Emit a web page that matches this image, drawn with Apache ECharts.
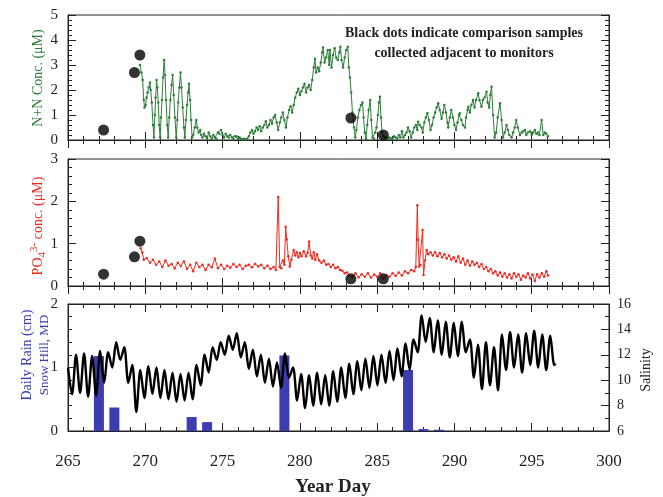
<!DOCTYPE html>
<html><head><meta charset="utf-8">
<script src="https://cdn.jsdelivr.net/npm/echarts@6/dist/echarts.min.js"></script>
<style>html,body{margin:0;padding:0;background:#fff}#c{width:663px;height:497px}</style>
</head><body><div id="c"></div>
<script>
// ---- Data (Year Day, value) ----
var nnData = [
[269.65,3.0],[269.75,2.7],[269.83,2.4],[269.9,1.6],[269.95,1.3],[270.02,1.4],[270.08,1.7],[270.15,1.9],[270.22,2.1],[270.3,2.3],[270.35,2.0],[270.42,1.5],[270.5,0.6],[270.56,0.1],[270.62,1.0],[270.67,1.7],[270.73,2.4],[270.78,2.1],[270.84,1.5],[270.9,0.6],[270.96,0.1],[271.02,0.9],[271.08,1.6],[271.15,2.5],[271.22,3.2],[271.28,2.6],[271.34,1.6],[271.42,0.6],[271.48,0.1],[271.55,0.9],[271.62,1.6],[271.7,2.2],[271.77,2.6],[271.84,1.8],[271.92,0.9],[272.0,0.1],[272.07,0.8],[272.13,1.5],[272.2,2.1],[272.28,2.7],[272.34,2.1],[272.42,1.3],[272.5,0.5],[272.56,0.1],[272.63,0.8],[272.7,1.4],[272.77,1.9],[272.83,2.25],[272.9,1.6],[272.96,0.8],[273.03,0.1],[273.1,0.2],[273.2,0.5],[273.3,0.8],[273.36,0.5],[273.45,0.3],[273.55,0.4],[273.62,0.2],[273.7,0.1],[273.8,0.25],[273.9,0.15],[274.0,0.05],[274.1,0.3],[274.2,0.15],[274.3,0.05],[274.4,0.2],[274.5,0.1],[274.6,0.05],[274.7,0.3],[274.8,0.25],[274.9,0.4],[275.0,0.2],[275.1,0.1],[275.2,0.25],[275.3,0.15],[275.4,0.1],[275.5,0.2],[275.6,0.1],[275.7,0.05],[275.8,0.15],[275.9,0.15],[276.0,0.05],[276.1,0.1],[276.2,0.05],[276.3,0.03],[276.4,0.05],[276.5,0.02],[276.6,0.05],[276.7,0.15],[276.8,0.3],[276.9,0.4],[277.0,0.25],[277.1,0.35],[277.2,0.5],[277.3,0.4],[277.4,0.55],[277.5,0.35],[277.6,0.5],[277.7,0.6],[277.8,0.75],[277.9,0.5],[278.0,0.6],[278.1,0.8],[278.2,0.65],[278.3,0.9],[278.4,1.0],[278.5,0.7],[278.6,0.4],[278.7,0.7],[278.8,0.9],[278.9,1.1],[279.0,0.8],[279.1,0.5],[279.2,0.9],[279.3,1.2],[279.4,1.35],[279.5,1.1],[279.6,1.4],[279.7,1.7],[279.8,1.9],[279.9,2.05],[280.0,1.8],[280.1,1.95],[280.2,2.1],[280.3,2.25],[280.4,1.9],[280.5,2.1],[280.6,2.2],[280.7,2.0],[280.8,2.4],[280.9,2.9],[280.98,3.25],[281.05,2.7],[281.15,2.9],[281.25,2.75],[281.35,3.1],[281.45,3.5],[281.5,3.7],[281.6,3.1],[281.7,3.3],[281.8,3.6],[281.9,3.0],[281.95,3.6],[282.05,2.9],[282.15,3.4],[282.25,3.67],[282.35,3.3],[282.45,3.2],[282.55,3.5],[282.62,3.73],[282.7,3.2],[282.8,2.9],[282.9,3.3],[283.0,3.6],[283.1,3.73],[283.17,2.9],[283.24,2.5],[283.32,1.9],[283.4,1.1],[283.5,0.5],[283.58,0.1],[283.66,0.4],[283.75,0.9],[283.85,1.2],[283.95,1.4],[284.05,1.5],[284.12,0.9],[284.2,0.3],[284.28,0.05],[284.36,0.6],[284.45,1.2],[284.55,1.6],[284.62,0.8],[284.7,0.1],[284.8,0.05],[284.88,0.3],[284.96,0.5],[285.05,1.0],[285.12,1.5],[285.18,1.73],[285.25,0.9],[285.32,0.3],[285.4,0.15],[285.5,0.1],[285.6,0.1],[285.7,0.05],[285.8,0.1],[285.9,0.05],[286.0,0.05],[286.1,0.15],[286.2,0.1],[286.3,0.05],[286.4,0.2],[286.5,0.1],[286.6,0.35],[286.7,0.1],[286.8,0.2],[286.9,0.3],[287.0,0.5],[287.1,0.35],[287.2,0.1],[287.3,0.3],[287.4,0.5],[287.5,0.6],[287.6,0.4],[287.65,0.73],[287.75,0.6],[287.87,0.5],[287.95,0.3],[288.05,0.7],[288.15,0.9],[288.25,1.07],[288.35,0.8],[288.45,0.4],[288.55,0.6],[288.65,0.9],[288.75,1.1],[288.85,1.3],[288.95,1.47],[289.05,1.2],[289.17,0.85],[289.25,1.1],[289.35,1.4],[289.45,1.1],[289.55,0.7],[289.6,0.5],[289.7,0.9],[289.8,1.2],[289.9,0.9],[290.0,0.6],[290.1,0.4],[290.2,0.7],[290.3,1.0],[290.35,1.07],[290.45,0.8],[290.55,0.6],[290.68,0.5],[290.75,0.9],[290.85,1.2],[290.9,1.33],[291.0,1.1],[291.1,1.4],[291.2,1.6],[291.3,1.3],[291.4,1.6],[291.54,1.87],[291.62,1.6],[291.75,1.33],[291.85,1.6],[291.95,1.7],[292.08,1.93],[292.15,1.5],[292.25,1.3],[292.32,1.8],[292.4,2.13],[292.5,1.0],[292.6,0.1],[292.7,0.3],[292.8,0.9],[292.95,1.47],[293.05,0.8],[293.15,0.1],[293.25,0.3],[293.37,0.6],[293.45,0.4],[293.55,0.2],[293.7,0.1],[293.8,0.3],[293.9,0.5],[294.0,0.8],[294.1,0.5],[294.24,0.2],[294.35,0.3],[294.45,0.35],[294.56,0.4],[294.65,0.2],[294.75,0.3],[294.9,0.35],[295.0,0.2],[295.1,0.3],[295.2,0.4],[295.3,0.25],[295.4,0.3],[295.5,0.2],[295.64,0.8],[295.75,0.2],[295.85,0.3],[295.95,0.25],[296.05,0.15]
];
var nnSamples = [[267.3,0.4],[269.3,2.7],[269.65,3.4],[283.3,0.88],[285.4,0.2]];

var po4Data = [
[269.7,0.89],[269.8,0.8],[269.9,0.62],[270.1,0.66],[270.3,0.55],[270.5,0.62],[270.7,0.5],[270.9,0.58],[271.1,0.45],[271.3,0.6],[271.5,0.48],[271.7,0.52],[271.9,0.42],[272.1,0.55],[272.3,0.47],[272.5,0.58],[272.7,0.4],[272.9,0.5],[273.1,0.35],[273.3,0.55],[273.5,0.45],[273.7,0.5],[273.9,0.38],[274.1,0.5],[274.3,0.44],[274.5,0.65],[274.7,0.42],[274.9,0.5],[275.1,0.4],[275.3,0.48],[275.5,0.43],[275.7,0.52],[275.9,0.45],[276.1,0.5],[276.3,0.4],[276.5,0.48],[276.7,0.5],[276.9,0.44],[277.1,0.52],[277.3,0.46],[277.5,0.5],[277.7,0.42],[277.9,0.48],[278.1,0.4],[278.3,0.45],[278.45,0.38],[278.6,2.1],[278.7,0.45],[278.8,0.42],[278.9,0.6],[279.0,0.5],[279.08,1.4],[279.15,1.1],[279.25,0.7],[279.35,0.46],[279.45,0.62],[279.6,0.85],[279.7,0.72],[279.8,0.8],[279.9,0.68],[280.0,0.78],[280.1,0.7],[280.25,0.82],[280.4,0.7],[280.5,0.78],[280.6,1.05],[280.7,0.72],[280.8,0.65],[280.9,0.8],[281.0,0.62],[281.1,0.75],[281.25,0.6],[281.4,0.55],[281.55,0.6],[281.7,0.5],[281.85,0.52],[282.0,0.45],[282.15,0.5],[282.3,0.42],[282.45,0.45],[282.6,0.38],[282.75,0.36],[282.9,0.3],[283.05,0.32],[283.2,0.25],[283.4,0.22],[283.6,0.3],[283.8,0.2],[284.0,0.28],[284.2,0.22],[284.4,0.3],[284.6,0.2],[284.8,0.27],[285.0,0.22],[285.2,0.3],[285.4,0.18],[285.6,0.26],[285.8,0.22],[286.0,0.3],[286.2,0.24],[286.4,0.32],[286.6,0.25],[286.8,0.35],[287.0,0.3],[287.2,0.38],[287.4,0.35],[287.5,0.45],[287.6,1.91],[287.65,1.09],[287.72,0.46],[287.8,0.5],[287.94,1.32],[288.0,0.26],[288.1,0.6],[288.2,0.85],[288.3,0.75],[288.45,0.8],[288.6,0.72],[288.75,0.8],[288.9,0.7],[289.05,0.78],[289.2,0.68],[289.35,0.75],[289.5,0.65],[289.65,0.72],[289.8,0.62],[289.95,0.68],[290.1,0.58],[290.25,0.7],[290.4,0.55],[290.55,0.65],[290.7,0.5],[290.85,0.6],[291.0,0.48],[291.15,0.58],[291.3,0.5],[291.45,0.55],[291.6,0.45],[291.75,0.52],[291.9,0.4],[292.05,0.45],[292.2,0.35],[292.35,0.4],[292.5,0.3],[292.65,0.35],[292.8,0.25],[292.95,0.32],[293.1,0.22],[293.25,0.3],[293.4,0.2],[293.55,0.28],[293.7,0.18],[293.85,0.3],[294.0,0.22],[294.15,0.28],[294.3,0.15],[294.45,0.25],[294.6,0.2],[294.75,0.3],[294.9,0.18],[295.05,0.27],[295.2,0.12],[295.35,0.28],[295.5,0.2],[295.65,0.3],[295.8,0.22],[295.95,0.35],[296.05,0.25]
];
var po4Samples = [[267.3,0.28],[269.3,0.69],[269.65,1.06],[283.3,0.17],[285.4,0.17]];

var rainData = [[267,1.18],[268,0.37],[273,0.22],[274,0.14],[279,1.19],[287,0.96],[288,0.03],[289,0.02]];

var salinityData = [
[265.00,11.0],[265.26,8.9],[265.52,12.0],[265.78,9.0],[266.04,12.1],[266.30,8.7],[266.56,11.9],[266.82,8.8],[267.08,12.3],[267.34,9.8],[267.60,12.2],[267.86,11.0],[268.12,13.0],[268.38,11.6],[268.64,12.6],[268.90,9.8],[269.16,11.2],[269.42,7.5],[269.68,10.8],[269.94,8.6],[270.20,11.1],[270.46,8.9],[270.72,11.0],[270.98,8.6],[271.24,10.8],[271.50,8.5],[271.76,10.6],[272.02,8.3],[272.28,10.5],[272.54,8.4],[272.80,10.6],[273.06,8.5],[273.32,11.2],[273.58,9.6],[273.84,12.0],[274.10,10.6],[274.36,12.6],[274.62,11.6],[274.88,13.0],[275.14,12.0],[275.40,13.5],[275.66,12.4],[275.92,13.7],[276.18,11.8],[276.44,13.0],[276.70,10.9],[276.96,12.4],[277.22,10.3],[277.48,12.0],[277.74,9.8],[278.00,11.7],[278.26,9.5],[278.52,11.4],[278.78,9.4],[279.04,12.1],[279.30,10.2],[279.56,11.0],[279.82,8.4],[280.08,10.5],[280.34,7.8],[280.60,10.4],[280.86,8.0],[281.12,10.6],[281.38,8.1],[281.64,10.4],[281.90,8.0],[282.16,10.7],[282.42,8.3],[282.68,11.0],[282.94,8.6],[283.20,11.3],[283.46,8.9],[283.72,11.5],[283.98,9.2],[284.24,11.7],[284.50,9.4],[284.76,11.9],[285.02,9.6],[285.28,12.0],[285.54,9.8],[285.80,12.3],[286.06,10.0],[286.32,12.5],[286.58,10.3],[286.84,12.9],[287.10,10.8],[287.36,13.2],[287.62,12.2],[287.88,15.1],[288.14,13.0],[288.40,14.9],[288.66,12.2],[288.92,14.7],[289.18,12.0],[289.44,14.6],[289.70,11.8],[289.96,14.5],[290.22,11.9],[290.48,14.6],[290.74,12.2],[291.00,13.2],[291.26,10.2],[291.52,12.8],[291.78,9.3],[292.04,13.0],[292.30,9.6],[292.56,12.6],[292.82,9.2],[293.08,13.6],[293.34,10.8],[293.60,13.8],[293.86,11.0],[294.12,13.6],[294.38,10.6],[294.64,13.7],[294.90,11.2],[295.16,13.9],[295.42,11.0],[295.68,13.6],[295.94,10.8],[296.20,13.5],[296.46,11.2],[296.55,11.3]
];

var xTicks = [265, 270, 275, 280, 285, 290, 295, 300];

// ---- Chart ----
var FONT = 'Liberation Serif';
var GREEN = '#2f7d3a', RED = '#ee2a1e', BLUE = '#3b3db0', INK = '#222';
var chart = echarts.init(document.getElementById('c'), null, {renderer: 'canvas'});

var grids = [
  {left: 68, right: 54, top: 15, height: 125},
  {left: 68, right: 54, top: 159, height: 127},
  {left: 68, right: 54, top: 304, height: 127}
];
grids.forEach(function (g) { g.show = true; g.borderColor = INK; g.borderWidth = 1; g.backgroundColor = 'transparent'; });

function xAx(gi, pos, labels) {
  return {
    type: 'value', gridIndex: gi, position: pos, min: xTicks[0], max: xTicks[xTicks.length - 1], interval: 5,
    axisLine: {show: true, lineStyle: {color: INK, width: 1}},
    axisTick: {show: true, inside: true, length: 8, lineStyle: {color: INK}},
    minorTick: {show: true, splitNumber: 5, length: 4, lineStyle: {color: INK}},
    axisLabel: {show: labels, fontFamily: FONT, fontSize: 17, color: INK, margin: 22},
    splitLine: {show: false}
  };
}
function yAx(gi, pos, min, max, interval, minorSplit, labels, fs) {
  return {
    type: 'value', gridIndex: gi, position: pos, min: min, max: max, interval: interval,
    axisLine: {show: true, lineStyle: {color: INK, width: 1}},
    axisTick: {show: true, inside: true, length: 8, lineStyle: {color: INK}},
    minorTick: {show: true, splitNumber: minorSplit, length: 4, lineStyle: {color: INK}},
    axisLabel: {show: labels, fontFamily: FONT, fontSize: fs || 15, color: INK, margin: pos === 'left' ? 10 : 8},
    splitLine: {show: false}
  };
}

var option = {
  animation: false,
  backgroundColor: '#fff',
  textStyle: {fontFamily: FONT},
  grid: grids,
  xAxis: [xAx(0, 'bottom', false), xAx(0, 'top', false), xAx(1, 'bottom', false), xAx(1, 'top', false), xAx(2, 'bottom', true), xAx(2, 'top', false)],
  yAxis: [
    yAx(0, 'left', 0, 5, 1, 5, true), yAx(0, 'right', 0, 5, 1, 5, false),
    yAx(1, 'left', 0, 3, 1, 5, true), yAx(1, 'right', 0, 3, 1, 5, false),
    yAx(2, 'left', 0, 2, 1, 5, true), yAx(2, 'right', 6, 16, 2, 2, true, 14)
  ],
  series: [
    {type: 'line', xAxisIndex: 0, yAxisIndex: 0, data: nnData, symbol: 'circle', symbolSize: 2.5, showSymbol: true,
     lineStyle: {color: GREEN, width: 1}, itemStyle: {color: GREEN}},
    {type: 'scatter', xAxisIndex: 0, yAxisIndex: 0, data: nnSamples, symbolSize: 11, itemStyle: {color: '#000'}, z: 5},
    {type: 'line', xAxisIndex: 2, yAxisIndex: 2, data: po4Data, symbol: 'circle', symbolSize: 2.5, showSymbol: true,
     lineStyle: {color: RED, width: 1}, itemStyle: {color: RED}},
    {type: 'scatter', xAxisIndex: 2, yAxisIndex: 2, data: po4Samples, symbolSize: 11, itemStyle: {color: '#000'}, z: 5},
    {type: 'bar', xAxisIndex: 4, yAxisIndex: 4, data: rainData, barWidth: 10, itemStyle: {color: BLUE}},
    {type: 'line', xAxisIndex: 4, yAxisIndex: 5, data: salinityData, smooth: 0.3, symbol: 'none',
     lineStyle: {color: '#000', width: 2.4}, z: 4}
  ],
  graphic: [
    {type: 'text', position: [464, 33], style: {text: 'Black dots indicate comparison samples', font: '600 14px ' + FONT, fill: INK, textAlign: 'center', textVerticalAlign: 'middle'}},
    {type: 'text', position: [464, 53], style: {text: 'collected adjacent to monitors', font: '600 14px ' + FONT, fill: INK, textAlign: 'center', textVerticalAlign: 'middle'}},
    {type: 'text', position: [38, 78], rotation: Math.PI / 2, style: {text: 'N+N Conc. (\u03BCM)', font: '14px ' + FONT, fill: GREEN, textAlign: 'center', textVerticalAlign: 'middle'}},
    {type: 'text', position: [38, 226], rotation: Math.PI / 2, style: {
      text: '{a|PO}{sub|4}{sup|3-}{a| conc. (\u03BCM)}',
      rich: {a: {font: '14px ' + FONT, fill: RED, verticalAlign: 'middle'},
             sub: {font: '11px ' + FONT, fill: RED, verticalAlign: 'bottom', padding: [6, 0, 0, 0]},
             sup: {font: '11px ' + FONT, fill: RED, verticalAlign: 'top', padding: [0, 0, 8, 0]}},
      textAlign: 'center', textVerticalAlign: 'middle'}},
    {type: 'text', position: [27, 355], rotation: Math.PI / 2, style: {text: 'Daily Rain (cm)', font: '14px ' + FONT, fill: BLUE, textAlign: 'center', textVerticalAlign: 'middle'}},
    {type: 'text', position: [45, 355], rotation: Math.PI / 2, style: {text: 'Snow Hill, MD', font: '13px ' + FONT, fill: BLUE, textAlign: 'center', textVerticalAlign: 'middle'}},
    {type: 'text', position: [646, 370], rotation: Math.PI / 2, style: {text: 'Salinity', font: '14px ' + FONT, fill: INK, textAlign: 'center', textVerticalAlign: 'middle'}},
    {type: 'text', position: [333, 487], style: {text: 'Year Day', font: 'bold 19px ' + FONT, fill: INK, textAlign: 'center', textVerticalAlign: 'middle'}}
  ]
};
chart.setOption(option);
</script>
</body></html>
